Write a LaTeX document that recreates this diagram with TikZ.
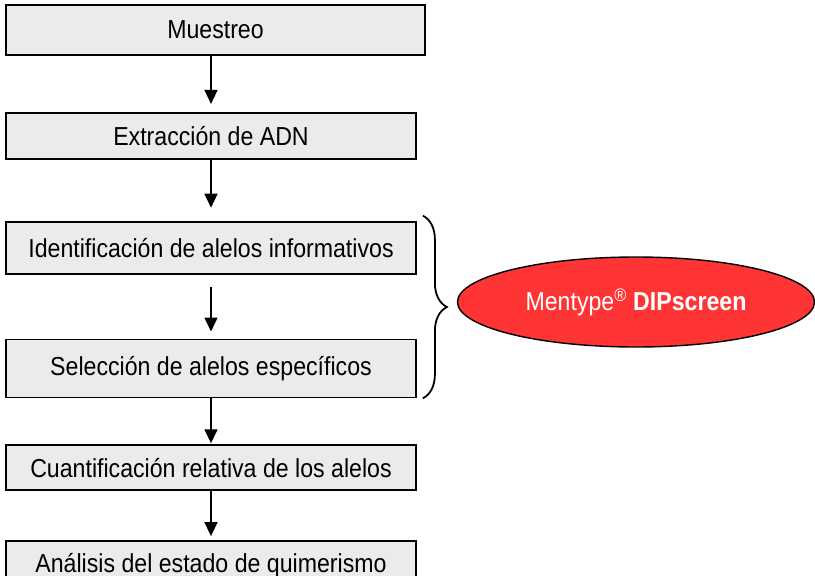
\documentclass[tikz,border=0pt]{standalone}
\usepackage{fontspec}
\setmainfont{Liberation Sans}[FakeStretch=0.89]
\usetikzlibrary{arrows.meta, positioning, shapes.geometric, decorations.pathreplacing}
\definecolor{boxgray}{HTML}{EBEBEB}
\definecolor{dipred}{HTML}{FF3535}
\tikzset{
    stepbox/.style={rectangle, draw=black, line width=1.8pt, fill=boxgray,
      minimum width=410pt, inner sep=0pt, font=\fontsize{26}{30}\selectfont},
    flow/.style={-{Triangle[length=14pt, width=13pt]}, line width=1.5pt},
    ellip/.style={ellipse, draw=black, line width=1.4pt, fill=dipred, text=white,
      minimum width=357pt, minimum height=90pt, font=\fontsize{26}{30}\selectfont},
}
\begin{document}
\begin{tikzpicture}[x=1pt, y=-1pt]
    \tikzset{
      node distance=56pt
    }
    \useasboundingbox (0,0) rectangle (815,576);

    \node[stepbox, minimum width=419pt, minimum height=50pt] (s0) at (215.5,30) {Muestreo};
    \node[stepbox, minimum height=46pt, below=56pt of s0, xshift=-4.5pt] (s1) {Extracción de ADN};
    \node[stepbox, minimum height=52pt, below=61pt of s1] (s2) {Identificación de alelos informativos};
    \node[stepbox, minimum height=58pt, below=64pt of s2] (s3) {Selección de alelos específicos};
    \node[stepbox, minimum height=45pt, below=46pt of s3] (s4) {Cuantificación relativa de los alelos};
    \node[stepbox, minimum height=50pt, below=49pt of s4] (s5) {Análisis del estado de quimerismo};

    \draw (s1 |- s0.south) edge[flow, shorten >=8pt] (s1);
    \draw (s1) edge[flow, shorten >=13pt] (s2);
    \draw (s2) edge[flow, shorten <=12pt, shorten >=7pt] (s3);
    \draw (s3) edge[flow, shorten >=1pt] (s4);
    \draw (s4) edge[flow, shorten >=4pt] (s5);

    % brace round the two middle steps
    \draw[decorate, decoration={brace, amplitude=24pt}, line width=1.8pt]
      ([xshift=6pt, yshift=5pt]s2.north east) -- ([xshift=6pt]s3.south east);

    \node[ellip] (dip) at (636,302) {Mentype\textsuperscript{®} \textbf{DIPscreen}};

  \end{tikzpicture}
\end{document}
